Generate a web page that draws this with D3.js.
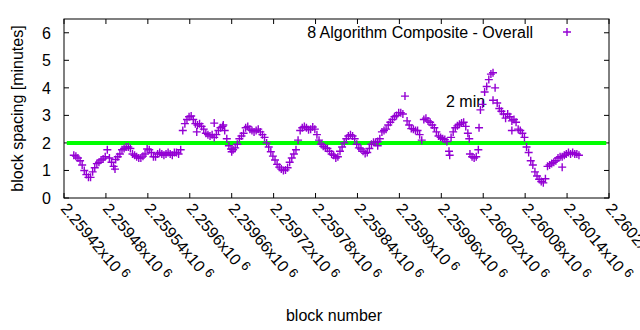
<!DOCTYPE html>
<meta charset="utf-8">
<style>
body { margin: 0; background: #fff; }
svg { font-family: "Liberation Sans", Arial, sans-serif; font-size: 16px; }
.border { fill: none; stroke: #000; stroke-width: 1; }
.tick { stroke: #000; stroke-width: 1; }
.pt { fill: none; stroke: #9400d3; stroke-width: 1.4; }
</style>
<svg width="640" height="330"></svg>
<script src="https://d3js.org/d3.v7.min.js"></script>
<script>

// one point every 3 blocks, starting at blockStart
var blockStart = 2259434;
var blockStep = 3;
var spacing = [
  1.55,1.52,1.45,1.35,1.2,1.0,0.85,0.75,0.75,0.95,
  1.1,1.25,1.3,1.38,1.42,1.5,1.75,1.45,1.3,1.15,
  1.4,1.5,1.6,1.75,1.8,1.85,1.85,1.8,1.6,1.55,
  1.5,1.45,1.45,1.52,1.6,1.78,1.75,1.65,1.5,1.5,
  1.6,1.65,1.6,1.55,1.6,1.65,1.6,1.55,1.65,1.65,
  1.6,1.75,2.45,2.7,2.85,2.95,2.98,2.85,2.7,2.65,
  2.7,2.6,2.5,2.35,2.3,2.25,2.3,2.2,2.3,2.45,
  2.55,2.6,2.45,2.15,1.9,1.78,1.75,1.82,1.95,2.15,
  2.25,2.35,2.55,2.6,2.5,2.45,2.4,2.45,2.5,2.4,
  2.3,2.2,2.0,1.85,1.68,1.52,1.38,1.22,1.12,1.05,
  1.0,1.02,1.1,1.3,1.45,1.6,1.75,2.1,2.45,2.55,
  2.6,2.55,2.48,2.5,2.58,2.5,2.3,2.1,1.95,1.88,
  1.82,1.8,1.7,1.6,1.55,1.45,1.5,1.7,1.85,2.0,
  2.15,2.25,2.3,2.25,2.15,1.95,1.82,1.78,1.7,1.62,
  1.65,1.8,1.95,2.02,2.02,2.05,2.15,2.4,2.45,2.5,
  2.65,2.75,2.85,2.95,3.0,3.1,3.1,3.05,3.7,2.8,
  2.65,2.52,2.5,2.45,2.45,2.3,2.1,2.85,2.9,2.8,
  2.75,2.65,2.55,2.4,2.25,2.2,2.15,2.12,2.05,1.7,
  2.2,2.4,2.55,2.62,2.68,2.72,2.75,2.6,2.35,1.6,
  1.5,1.45,1.5,1.75,3.2,3.4,3.85,4.05,4.3,4.5,
  4.55,4.0,3.45,3.25,3.15,3.05,2.9,3.05,2.95,2.8,
  2.85,2.75,2.5,2.45,2.35,2.2,1.85,1.65,1.35,1.2,
  0.95,0.8,0.68,0.6,0.55,0.7,1.15,1.2,1.25,1.3,
  1.35,1.45,1.5,1.5,1.55,1.6,1.65,1.6,1.65,1.6,
  1.6,1.55
];

// scattered blocks that sit off the main band
var extraBlocks = [2259493, 2259610, 2259635, 2259648, 2259660, 2259869,
  2259972, 2260000, 2260014, 2260034, 2260061, 2260133];
var extraSpacing = [1.05, 2.4, 2.72, 2.65, 1.68, 1.9,
  1.55, 2.15, 2.55, 3.55, 2.45, 1.12];

var xTickValues = [2259420, 2259480, 2259540, 2259600, 2259660, 2259720, 2259780,
  2259840, 2259900, 2259960, 2260020, 2260080, 2260140, 2260200];
var xTickLabels = ["2.25942", "2.25948", "2.25954", "2.2596", "2.25966", "2.25972", "2.25978",
  "2.25984", "2.2599", "2.25996", "2.26002", "2.26008", "2.26014", "2.2602"];
var yTickValues = [0, 1, 2, 3, 4, 5, 6];
var targetMinutes = 2;
var lineBlocks = [2259424, 2260196];

var svg = d3.select("svg");
var pl = 64, pr = 609, pt = 19, pb = 198;

var x = d3.scaleLinear().domain([2259420, 2260200]).range([pl, pr]);
var y = d3.scaleLinear().domain([0, 6.5]).range([pb, pt]);

svg.append("rect").attr("width", 640).attr("height", 330).attr("fill", "#fff");

// ticks, all four sides, pointing inward
var tl = 5;
var ticks = svg.append("g");
xTickValues.forEach(function(v) {
  ticks.append("line").attr("class", "tick")
    .attr("x1", x(v)).attr("x2", x(v)).attr("y1", pb).attr("y2", pb - tl);
  ticks.append("line").attr("class", "tick")
    .attr("x1", x(v)).attr("x2", x(v)).attr("y1", pt).attr("y2", pt + tl);
});
yTickValues.forEach(function(v) {
  ticks.append("line").attr("class", "tick")
    .attr("x1", pl).attr("x2", pl + tl).attr("y1", y(v)).attr("y2", y(v));
  ticks.append("line").attr("class", "tick")
    .attr("x1", pr).attr("x2", pr - tl).attr("y1", y(v)).attr("y2", y(v));
});

svg.append("g").selectAll("text")
  .data(yTickValues)
  .enter().append("text")
  .attr("x", pl - 13)
  .attr("y", function(d) { return y(d) + 6; })
  .attr("text-anchor", "end")
  .text(function(d) { return d; });

var xl = svg.append("g").selectAll("text")
  .data(xTickValues)
  .enter().append("text")
  .attr("transform", function(d) { return "translate(" + (x(d) - 4) + "," + (pb + 11) + ") rotate(50)"; });
xl.append("tspan").text(function(d, i) { return xTickLabels[i] + "x10"; });
xl.append("tspan").attr("dx", 4).attr("dy", -5).attr("font-size", 13).text("6");

// axis titles
svg.append("text")
  .attr("transform", "translate(23," + ((pt + pb) / 2) + ") rotate(-90)")
  .attr("text-anchor", "middle")
  .text("block spacing [minutes]");
svg.append("text")
  .attr("x", 334).attr("y", 321)
  .attr("text-anchor", "middle")
  .text("block number");

// key
svg.append("text")
  .attr("x", 533).attr("y", 38)
  .attr("text-anchor", "end")
  .text("8 Algorithm Composite - Overall");
svg.append("path").attr("class", "pt")
  .attr("transform", "translate(567,32)")
  .attr("d", "M-4,0H4M0,-4V4");

svg.append("text")
  .attr("x", 446).attr("y", 107)
  .text("2 min");

// target line
svg.append("line")
  .attr("x1", x(lineBlocks[0])).attr("x2", x(lineBlocks[1]))
  .attr("y1", y(targetMinutes)).attr("y2", y(targetMinutes))
  .attr("stroke", "#00ff00").attr("stroke-width", 4);

var pts = spacing.map(function(v, i) { return [blockStart + i * blockStep, v]; })
  .concat(extraBlocks.map(function(b, i) { return [b, extraSpacing[i]]; }));

svg.append("g").selectAll("path")
  .data(pts)
  .enter().append("path")
  .attr("class", "pt")
  .attr("transform", function(d) { return "translate(" + x(d[0]) + "," + y(d[1]) + ")"; })
  .attr("d", "M-4,0H4M0,-4V4");

svg.append("rect").attr("class", "border")
  .attr("x", pl).attr("y", pt)
  .attr("width", pr - pl).attr("height", pb - pt);

</script>
